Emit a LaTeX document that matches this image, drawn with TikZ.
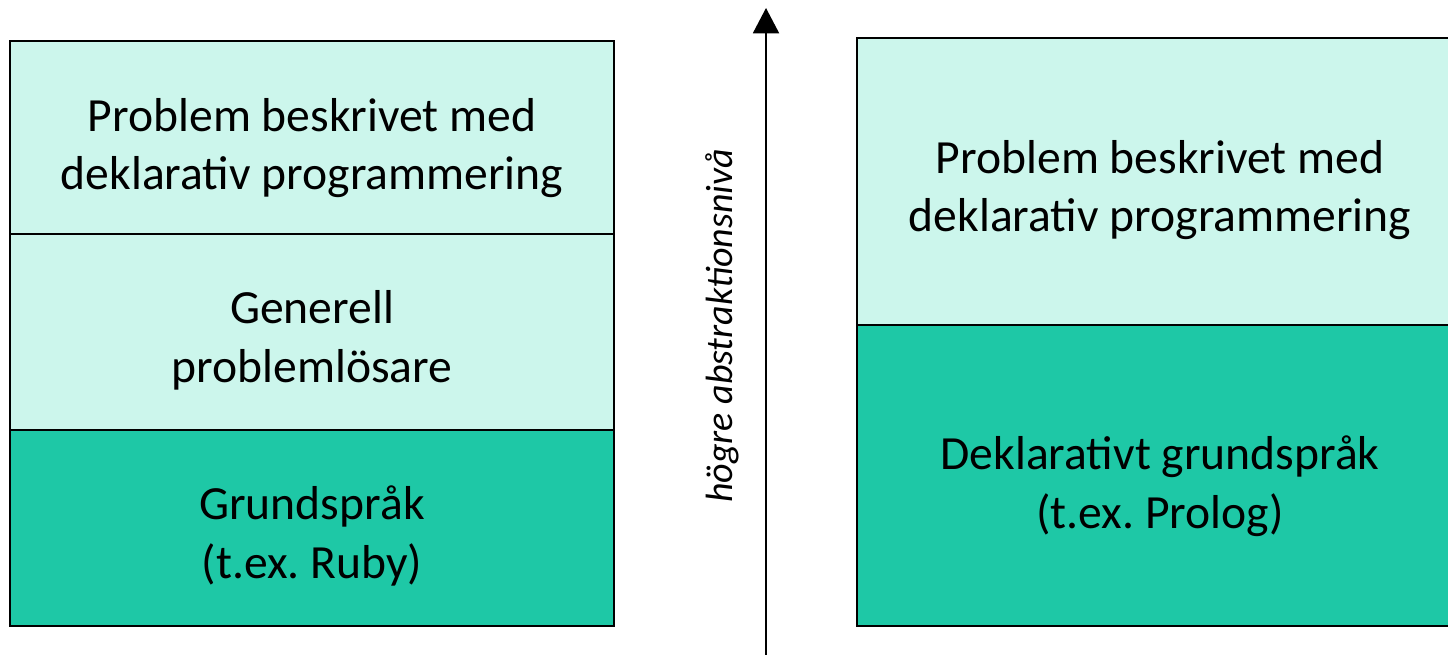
\documentclass[tikz,border=0pt]{standalone}
\usepackage{fontspec}
\setmainfont{Carlito}
\frenchspacing
\usetikzlibrary{arrows.meta}
\definecolor{mintlight}{RGB}{204,246,236}
\definecolor{mintdark}{RGB}{30,200,166}
\tikzset{
  layer/.style={draw=black, line width=1.5pt},
  layertext/.style={align=center, font=\fontsize{35.7}{44}\selectfont, inner sep=0.75pt},
}
\begin{document}
\begin{tikzpicture}[x=0.75pt,y=0.75pt,yscale=-1,xscale=1]
\useasboundingbox (0,0) rectangle (1448,654);
%Left stack
\draw [layer, fill=mintlight] (10,41) rectangle (614,234);
\draw [layer, fill=mintlight] (10,234) rectangle (614,430);
\draw [layer, fill=mintdark] (10,430) rectangle (614,626);
% Text Node
\node [layertext] (lprob) at (312,148) {Problem beskrivet med\\deklarativ programmering};
% Text Node
\node [layertext] (lsolver) at (312,340) {Generell\\problemlösare};
% Text Node
\node [layertext] (lbase) at (312,536) {Grundspråk\\(t.ex. Ruby)};
%Right stack
\draw [layer, fill=mintlight] (857,38) rectangle (1456,325);
\draw [layer, fill=mintdark] (857,325) rectangle (1456,626);
% Text Node
\node [layertext] (rprob) at (1160,190) {Problem beskrivet med\\deklarativ programmering};
% Text Node
\node [layertext] (rbase) at (1160,486) {Deklarativt grundspråk\\(t.ex. Prolog)};
%Axis arrow
\coordinate (lo) at (766,660);
\coordinate (hi) at (766,8);
\draw [line width=1.5pt, -{Triangle[width=19.5pt,length=19pt]}] (lo) -- (hi);
% Text Node
\node [rotate=90, font=\fontsize{28.5}{34}\selectfont\itshape, inner sep=0.75pt] (level) at (722,326) {högre abstraktionsnivå};
\end{tikzpicture}
\end{document}
